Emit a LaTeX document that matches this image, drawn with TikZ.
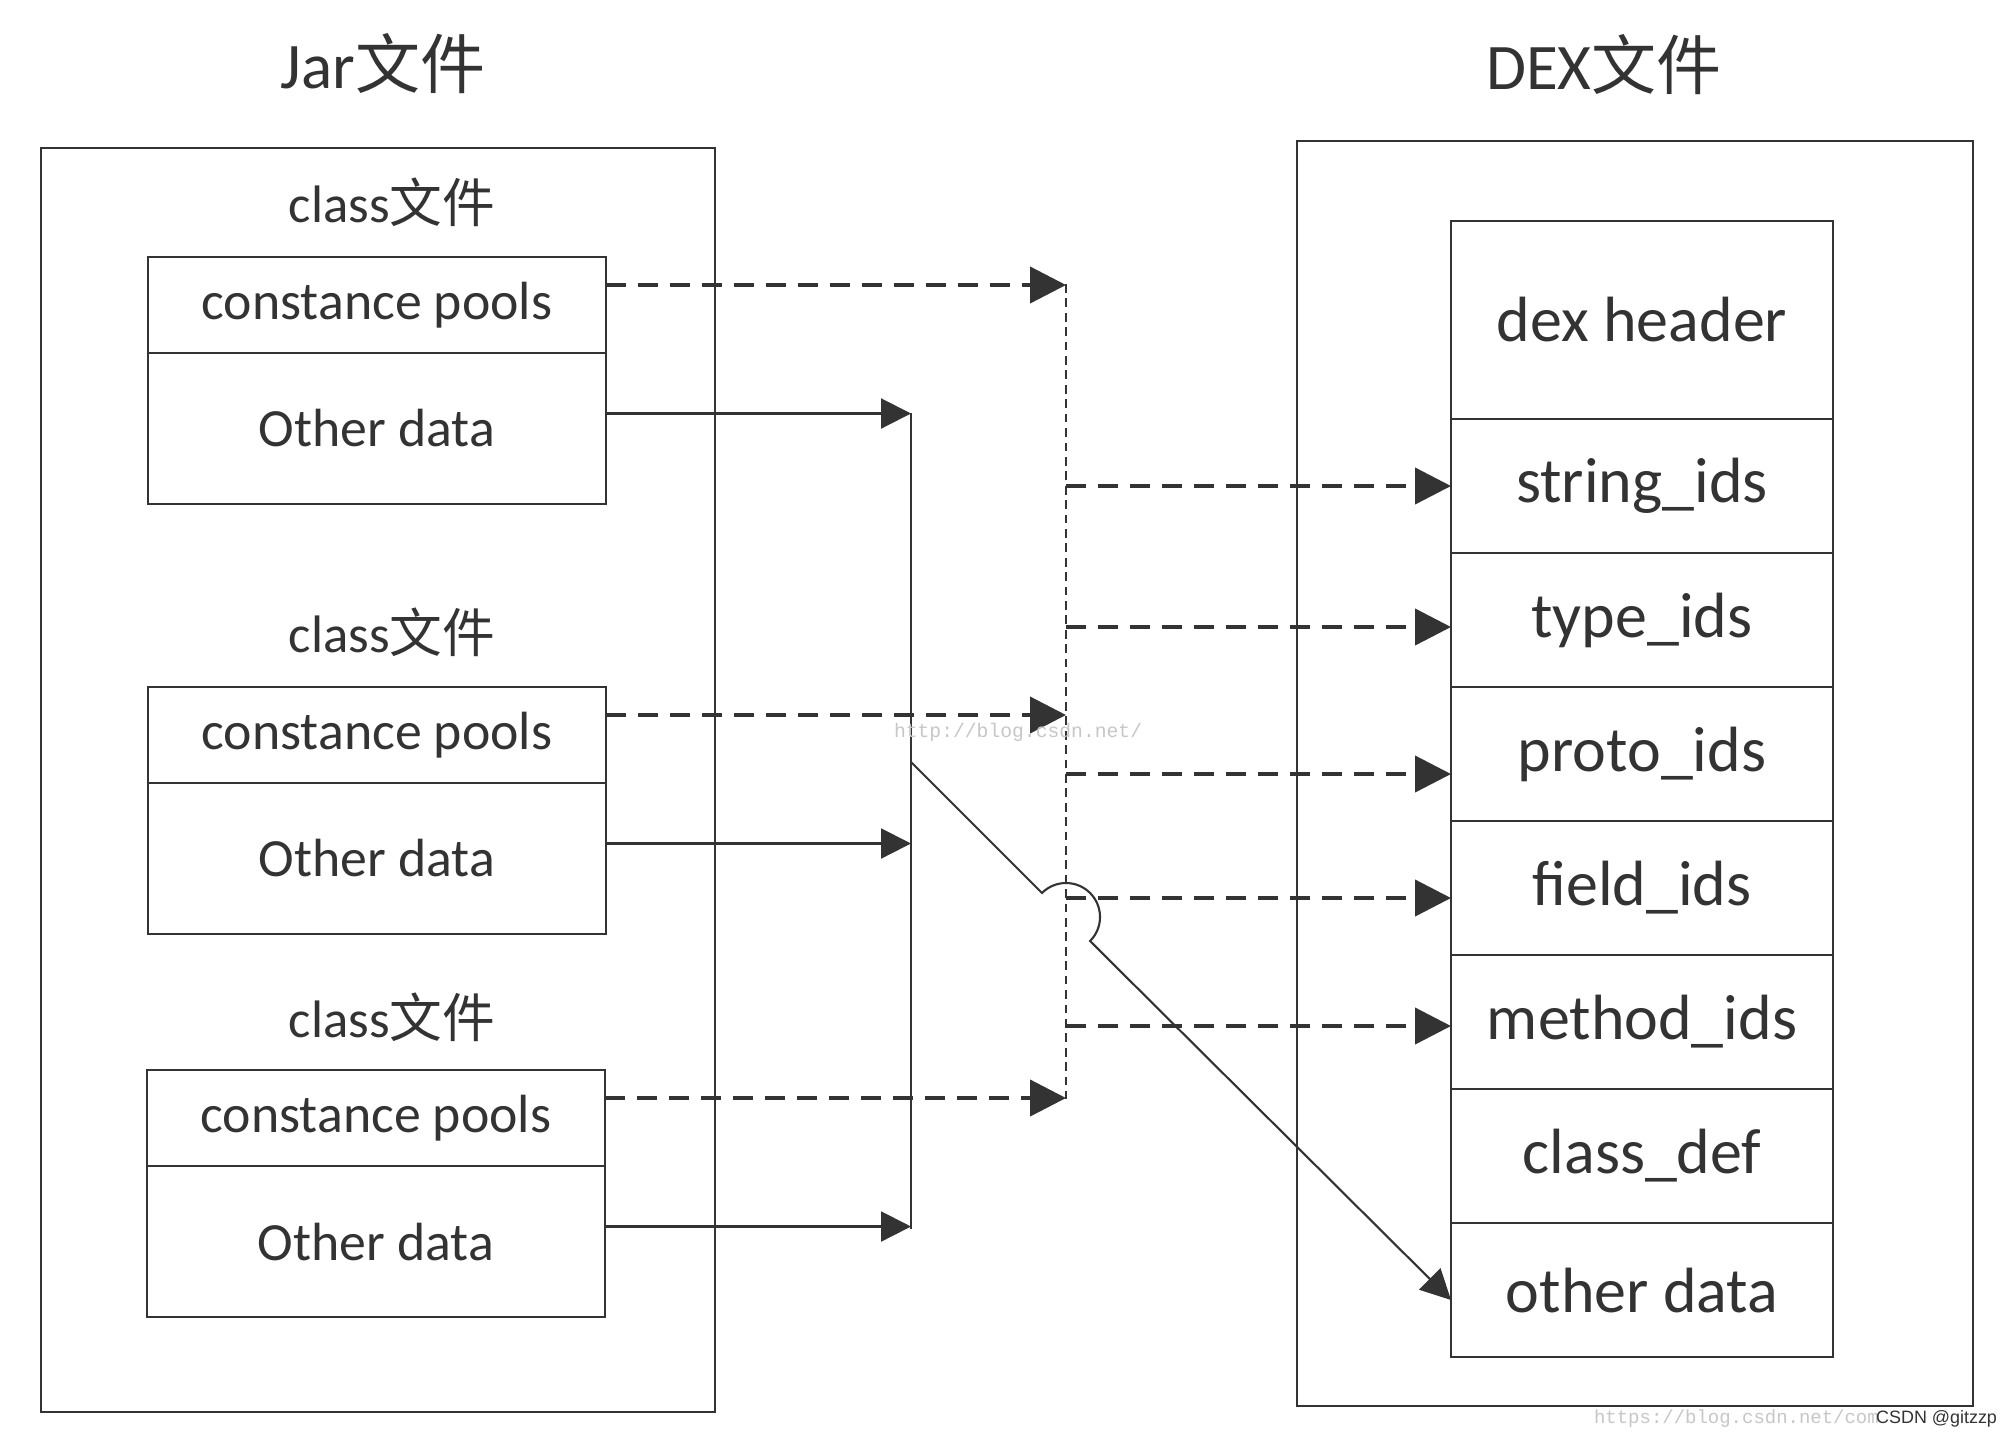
\documentclass[tikz,border=0pt]{standalone}
\usepackage{fontspec}
\setmainfont{Carlito}
\newfontfamily\cjk{Noto Sans CJK SC}
\newfontfamily\urlfont{Liberation Mono}
\newfontfamily\markfont{Liberation Sans}
\usetikzlibrary{calc,arrows.meta}

\tikzset{
  pool box/.style={minimum width=4.58cm,minimum height=0.96cm,draw,inner sep=0pt,outer sep=0pt,font=\fontsize{15.3}{18}\selectfont},
  data box/.style={minimum width=4.58cm,minimum height=1.51cm,draw,inner sep=0pt,outer sep=0pt,font=\fontsize{15.3}{18}\selectfont},
  dex row/.style={minimum width=3.82cm,minimum height=1.34cm,draw,inner sep=0pt,outer sep=0pt,font=\fontsize{18.2}{22}\selectfont},
  dash arrow/.style={line width=1.2pt,dash pattern=on 5.7pt off 3.4pt,-{Triangle[length=3.6mm,width=3.6mm]}},
  thin arrow/.style={line width=0.6pt,-{Triangle[length=3mm,width=3mm]}},
  bus line/.style={line width=0.6pt,dash pattern=on 2.5pt off 1.6pt}
}

\begin{document}
\begin{tikzpicture}[color=black!80,line width=0.6pt]
  \fill[white] (0,0) rectangle (20.13,-14.40);
  \useasboundingbox (0,0) rectangle (20.13,-14.40);

  % titles and outer boxes
  \node[font=\fontsize{18.5}{22}\selectfont] (jar title) at (3.83,-0.64) {Jar{\cjk 文件}};
  \node[font=\fontsize{18.5}{22}\selectfont] (dex title) at (16.04,-0.65) {DEX{\cjk 文件}};
  \node[minimum width=6.74cm,minimum height=12.64cm,draw] (jar box) at (3.78,-7.80) {};
  \node[minimum width=6.76cm,minimum height=12.65cm,draw] (dex box) at (16.35,-7.735) {};

  % class files
  \node[font=\fontsize{15}{18}\selectfont] (class 1) at (3.92,-2.02) {class{\cjk 文件}};
  \node[pool box,anchor=north] (pool 1) at (3.77,-2.57) {constance pools};
  \node[data box,anchor=north] (other 1) at (pool 1.south) {Other data};
  \node[font=\fontsize{15}{18}\selectfont] (class 2) at (3.92,-6.32) {class{\cjk 文件}};
  \node[pool box,anchor=north] (pool 2) at (3.77,-6.87) {constance pools};
  \node[data box,anchor=north] (other 2) at (pool 2.south) {Other data};
  \node[font=\fontsize{15}{18}\selectfont] (class 3) at (3.92,-10.17) {class{\cjk 文件}};
  \node[pool box,anchor=north] (pool 3) at (3.76,-10.70) {constance pools};
  \node[data box,anchor=north] (other 3) at (pool 3.south) {Other data};

  % dex layout
  \node[dex row,minimum height=1.98cm,anchor=north] (dex header) at (16.42,-2.21) {dex header};
  \node[dex row,anchor=north] (string ids) at (dex header.south) {string\_ids};
  \node[dex row,anchor=north] (type ids) at (string ids.south) {type\_ids};
  \node[dex row,anchor=north] (proto ids) at (type ids.south) {proto\_ids};
  \node[dex row,anchor=north] (field ids) at (proto ids.south) {field\_ids};
  \node[dex row,anchor=north] (method ids) at (field ids.south) {method\_ids};
  \node[dex row,anchor=north] (class def) at (method ids.south) {class\_def};
  \node[dex row,anchor=north] (dex other) at (class def.south) {other data};

  % constance pools -> ids
  \coordinate (pool bus) at (10.66,-2.84);
  \coordinate (pool bus end) at (10.66,-10.99);
  \foreach \n in {1,2,3}
    \draw[dash arrow] ([yshift=2mm]pool \n.east) -- ([yshift=2mm]pool \n.east -| pool bus);
  \draw[bus line] (pool bus) -- (pool bus end);
  \foreach \row/\dy in {string ids/0,type ids/-0.7,proto ids/-2,field ids/-1,method ids/-0.4}
    \draw[dash arrow] ([yshift=\dy mm]pool bus |- \row.west) -- ([yshift=\dy mm]\row.west);

  % other data -> other data
  \coordinate (data bus) at (9.11,-4.13);
  \coordinate (data bus end) at (9.11,-12.29);
  \coordinate (data split) at (9.11,-7.62);
  \coordinate (hop) at (10.66,-9.17);
  \foreach \n in {1,2,3}
    \draw[thin arrow] ([yshift=1.5mm]other \n.east) -- ([yshift=1.5mm]other \n.east -| data bus);
  \draw (data bus) -- (data bus end);
  \draw[thin arrow] (data split) -- ($(hop)+(135:0.34)$) arc[start angle=135,end angle=-45,radius=0.34]
    -- ([yshift=-1mm]dex other.west);

  % watermarks
  \node[font=\urlfont\fontsize{5.6}{7}\selectfont,text=black!22,anchor=base west,inner sep=0pt] (blog mark) at (8.93,-7.37) {http://blog.csdn.net/};
  \node[font=\urlfont\fontsize{5.4}{7}\selectfont,text=black!22,anchor=base west,inner sep=0pt] (url mark) at (15.93,-14.23) {https://blog.csdn.net/com};
  \node[font=\markfont\fontsize{5.1}{6}\selectfont,text=black!80,anchor=base east,inner sep=0pt] (csdn mark) at (19.98,-14.23) {CSDN @gitzzp};
\end{tikzpicture}
\end{document}
